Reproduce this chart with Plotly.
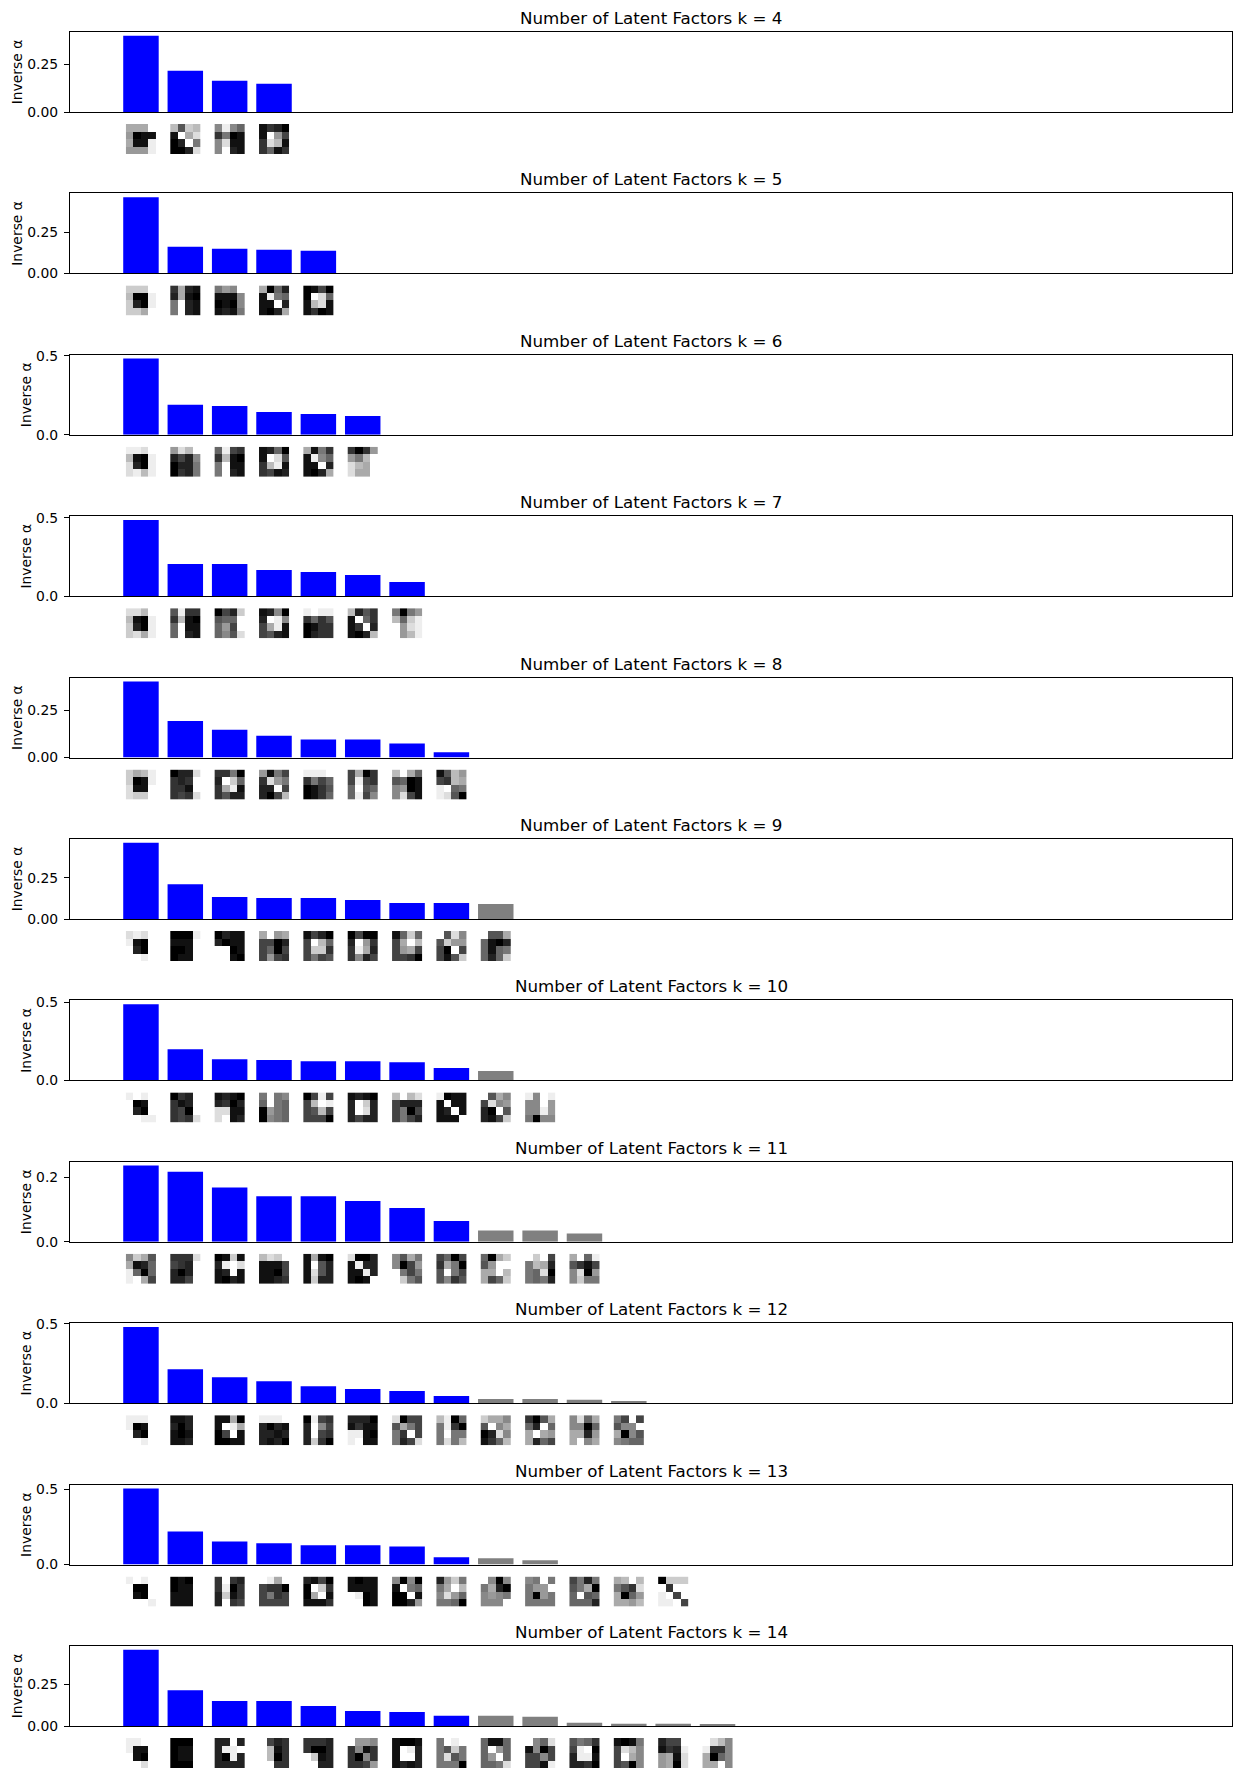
import plotly.graph_objects as go

W, H = 1242, 1787

ks = [4, 5, 6, 7, 8, 9, 10, 11, 12, 13, 14]

alpha_k4 = [0.397, 0.215, 0.163, 0.147]
alpha_k5 = [0.463, 0.162, 0.150, 0.144, 0.138]
alpha_k6 = [0.483, 0.191, 0.182, 0.145, 0.132, 0.119]
alpha_k7 = [0.485, 0.205, 0.205, 0.167, 0.154, 0.135, 0.091]
alpha_k8 = [0.404, 0.194, 0.148, 0.116, 0.096, 0.096, 0.075, 0.028]
alpha_k9 = [0.462, 0.210, 0.133, 0.127, 0.127, 0.115, 0.097, 0.097, 0.091]
alpha_k10 = [0.488, 0.200, 0.136, 0.130, 0.123, 0.123, 0.117, 0.079, 0.060, 0.0]
alpha_k11 = [0.237, 0.218, 0.169, 0.142, 0.142, 0.127, 0.105, 0.065, 0.035, 0.035, 0.0255]
alpha_k12 = [0.479, 0.213, 0.163, 0.138, 0.107, 0.089, 0.076, 0.045, 0.027, 0.027, 0.021, 0.014]
alpha_k13 = [0.506, 0.220, 0.154, 0.141, 0.128, 0.128, 0.121, 0.048, 0.042, 0.029, 0.0, 0.0, 0.0]
alpha_k14 = [0.460, 0.216, 0.151, 0.151, 0.121, 0.091, 0.085, 0.0615, 0.0615, 0.0556, 0.020, 0.014, 0.014, 0.008]

# number of active (blue) factors per panel; the rest are drawn grey
blue_counts = [4, 5, 6, 7, 8, 8, 8, 8, 8, 8, 8]

ytick_vals = [[0, 0.25], [0, 0.25], [0, 0.5], [0, 0.5], [0, 0.25], [0, 0.25],
              [0, 0.5], [0, 0.2], [0, 0.5], [0, 0.5], [0, 0.25]]
ytick_text = [["0.00", "0.25"], ["0.00", "0.25"], ["0.0", "0.5"], ["0.0", "0.5"],
              ["0.00", "0.25"], ["0.00", "0.25"], ["0.0", "0.5"], ["0.0", "0.2"],
              ["0.0", "0.5"], ["0.0", "0.5"], ["0.00", "0.25"]]

# 4x4 factor thumbnails, grey levels as hex digits (0 = black, f = white)
thumbs_k4 = [["aaaf", "9011", "a11e", "999e"], ["b5cb", "1fad", "02f7", "002d"],
             ["8e86", "3701", "8d11", "8f21"], ["1320", "1f94", "3db1", "3613"]]
thumbs_k5 = [["cccf", "b00e", "c20e", "ccaf"], ["3a21", "2a10", "7f21", "7f21"],
             ["798f", "1118", "0108", "1217"], ["a062", "1e76", "11f2", "102a"],
             ["0140", "0fd6", "1bd1", "1301"]]
thumbs_k6 = [["eedf", "b10e", "d20e", "debe"], ["9dbf", "2428", "0227", "0327"],
             ["6e43", "3b10", "7f11", "7f21"], ["1260", "1fd5", "3be1", "3412"],
             ["a173", "1e86", "11f2", "102a"], ["3039", "97bf", "dbaf", "daaf"]]
thumbs_k7 = [["ddbf", "b10e", "c20e", "cdae"], ["5e33", "3b10", "6f11", "6f21"],
             ["042c", "566f", "694f", "685d"], ["1280", "2fe8", "4ae1", "4521"],
             ["efee", "3635", "0133", "0233"], ["b253", "1f63", "13f2", "102b"],
             ["7079", "b6ce", "f9de", "f9be"]]
thumbs_k8 = [["cabe", "c01e", "d11f", "dccf"], ["022d", "323f", "331f", "343d"],
             ["3370", "2fc6", "3ae1", "3522"], ["9174", "3d97", "22f4", "204b"],
             ["eeef", "3746", "0135", "0136"], ["4a03", "4e43", "6f56", "6e48"],
             ["bfa6", "5601", "8901", "8d41"], ["15b9", "43ba", "ef67", "ed50"]]
thumbs_k9 = [["dedf", "e10f", "f20f", "ffef"], ["000e", "111f", "001f", "011f"],
             ["0211", "2011", "ff01", "ff10"], ["af9a", "4402", "4604", "4943"],
             ["1420", "4fb6", "4cc3", "4745"], ["0400", "2f93", "3ea2", "3824"],
             ["16c6", "4afb", "49a4", "4430"], ["f5d8", "5c99", "40f4", "415c"],
             ["f55a", "6102", "6167", "626c"]]
thumbs_k10 = [["efef", "f01f", "f20f", "ffee"], ["032f", "312f", "340f", "343d"],
              ["1210", "2302", "dd11", "df12"], ["7f78", "6f76", "0976", "0876"],
              ["04e4", "4bfe", "45b4", "4440"], ["1210", "2fc2", "2fd2", "2422"],
              ["bfbd", "4222", "4704", "4742"], ["e011", "1f11", "12f1", "111f"],
              ["f5a8", "4d89", "20f5", "214c"], ["e8fe", "88f9", "88e9", "7088"]]
thumbs_k11 = [["8ca5", "a126", "e606", "efa4"], ["333d", "432f", "202f", "224f"],
              ["01c1", "2efd", "12f1", "1021"], ["bdcf", "1114", "1104", "1123"],
              ["1a10", "1f52", "1d52", "1c22"], ["d002", "1e22", "11e2", "101f"],
              ["85a7", "8049", "f747", "fc75"], ["4604", "3a70", "5f74", "5835"],
              ["60ac", "59ff", "aafb", "a46c"], ["fcf4", "7ba2", "76d0", "7672"],
              ["af6e", "5314", "8d09", "8c77"]]
thumbs_k12 = [["eeef", "e01f", "f20f", "ffef"], ["112f", "202f", "101f", "112f"],
              ["11a0", "1fea", "04f1", "0011"], ["eeef", "2021", "2212", "2120"],
              ["0e43", "2f84", "2f43", "2c30"], ["2220", "1311", "ee10", "ef11"],
              ["d044", "5a74", "73f4", "724d"], ["be06", "7e30", "7f77", "7d7b"],
              ["caa8", "5f8a", "02d8", "136b"], ["305a", "62f6", "afa9", "a264"],
              ["8d6a", "8806", "aa29", "af8a"], ["74f4", "588f", "a085", "8766"]]
thumbs_k13 = [["efef", "f00f", "f10f", "fffe"], ["010f", "011f", "111f", "111f"],
              ["3f32", "3e03", "2c13", "2f34"], ["feaf", "4330", "4734", "4444"],
              ["2140", "0fc3", "0af1", "1113"], ["1011", "1111", "fe01", "ff01"],
              ["8080", "1f76", "00f1", "0029"], ["29c7", "7afb", "8d96", "7760"],
              ["f808", "7a20", "8987", "888f"], ["87f7", "799f", "7097", "7777"],
              ["4727", "57a0", "6f56", "6662"], ["abfb", "753d", "a069", "aa9b"],
              ["0ccc", "f3ff", "ef4f", "eef4"]]
thumbs_k14 = [["eeff", "e11f", "f10f", "ffdf"], ["000f", "011f", "011f", "000f"],
              ["22f2", "2eef", "20e2", "2222"], ["f423", "fb13", "fb03", "ff33"],
              ["3332", "3002", "fc12", "ff22"], ["f998", "3813", "3083", "3349"],
              ["1001", "1fe2", "1ff2", "1212"], ["7fef", "75c7", "7d57", "7770"],
              ["6116", "6f96", "69f6", "667d"], ["f86d", "1804", "4484", "441e"],
              ["5763", "4ef0", "2ee1", "2230"], ["1017", "4db8", "4fa8", "4508"],
              ["244f", "132e", "9a1d", "9a0d"], ["fdb8", "e338", "a068", "aaf8"]]

alphas = [alpha_k4, alpha_k5, alpha_k6, alpha_k7, alpha_k8, alpha_k9,
          alpha_k10, alpha_k11, alpha_k12, alpha_k13, alpha_k14]
thumbs = [thumbs_k4, thumbs_k5, thumbs_k6, thumbs_k7, thumbs_k8, thumbs_k9,
          thumbs_k10, thumbs_k11, thumbs_k12, thumbs_k13, thumbs_k14]

# ---- layout geometry (pixels) ----
AX_L, AX_R = 70, 1232
TOP0, STEP, AX_H = 32.0, 161.4, 80.0
TH_GAP, TH_H = 12.0, 30.0
X_RANGE = [-1.6, 24.6]
unit_px = (AX_R - AX_L) / (X_RANGE[1] - X_RANGE[0])
cell = TH_H / unit_px / 4.0

FONT = "DejaVu Sans"
TICK_FS = 13.9
TITLE_FS = 16.7

def py(px):
    return 1 - px / H

fig = go.Figure()
layout = dict(
    width=W, height=H, autosize=False,
    margin=dict(l=0, r=0, t=0, b=0, pad=0, autoexpand=False),
    paper_bgcolor="white", plot_bgcolor="white",
    showlegend=False,
    font=dict(family=FONT, size=TICK_FS, color="black"),
    annotations=[],
)

for j, k in enumerate(ks):
    T = TOP0 + STEP * j
    nb = 2 * j + 1
    nt = 2 * j + 2
    vals = alphas[j]
    colors = ["#0000ff" if i < blue_counts[j] else "#808080" for i in range(len(vals))]
    fig.add_trace(go.Bar(
        x=list(range(len(vals))), y=vals, width=0.8,
        marker=dict(color=colors, line=dict(width=0)),
        xaxis=f"x{nb}", yaxis=f"y{nb}", hoverinfo="skip",
    ))
    for i, th in enumerate(thumbs[j]):
        z = [[int(ch, 16) for ch in row] for row in th]
        fig.add_trace(go.Heatmap(
            z=z,
            x=[i + (c - 1.5) * cell for c in range(4)],
            y=[0, 1, 2, 3],
            colorscale=[[0, "black"], [1, "white"]],
            zmin=0, zmax=15, showscale=False, hoverinfo="skip",
            xaxis=f"x{nt}", yaxis=f"y{nt}",
        ))

    xd = [AX_L / W, AX_R / W]
    ymax = max(vals) * 1.05
    layout[f"xaxis{nb}"] = dict(
        domain=xd, range=X_RANGE, anchor=f"y{nb}", automargin=False,
        showline=True, linecolor="black", linewidth=1.1, mirror=True,
        showticklabels=False, ticks="", showgrid=False, zeroline=False,
    )
    layout[f"yaxis{nb}"] = dict(
        domain=[py(T + AX_H), py(T)], range=[0, ymax], anchor=f"x{nb}",
        automargin=False,
        showline=True, linecolor="black", linewidth=1.1, mirror=True,
        ticks="outside", ticklen=5, tickwidth=1.1, tickcolor="black",
        tickvals=ytick_vals[j], ticktext=ytick_text[j],
        tickfont=dict(family=FONT, size=TICK_FS, color="black"),
        ticklabelstandoff=3,
        showgrid=False, zeroline=False,
        title=dict(text="Inverse α", font=dict(family=FONT, size=TICK_FS, color="black"),
                   standoff=1),
    )
    layout[f"xaxis{nt}"] = dict(
        domain=xd, range=X_RANGE, anchor=f"y{nt}", automargin=False,
        visible=False, showgrid=False, zeroline=False,
    )
    layout[f"yaxis{nt}"] = dict(
        domain=[py(T + AX_H + TH_GAP + TH_H), py(T + AX_H + TH_GAP)],
        range=[3.5, -0.5], anchor=f"x{nt}", automargin=False,
        visible=False, showgrid=False, zeroline=False,
    )
    layout["annotations"].append(dict(
        text=f"Number of Latent Factors k = {k}",
        xref="paper", yref="paper",
        x=(AX_L + AX_R) / 2 / W, y=py(T - 2),
        xanchor="center", yanchor="bottom", showarrow=False,
        font=dict(family=FONT, size=TITLE_FS, color="black"),
    ))

fig.update_layout(**layout)
fig.write_html("out.html")
